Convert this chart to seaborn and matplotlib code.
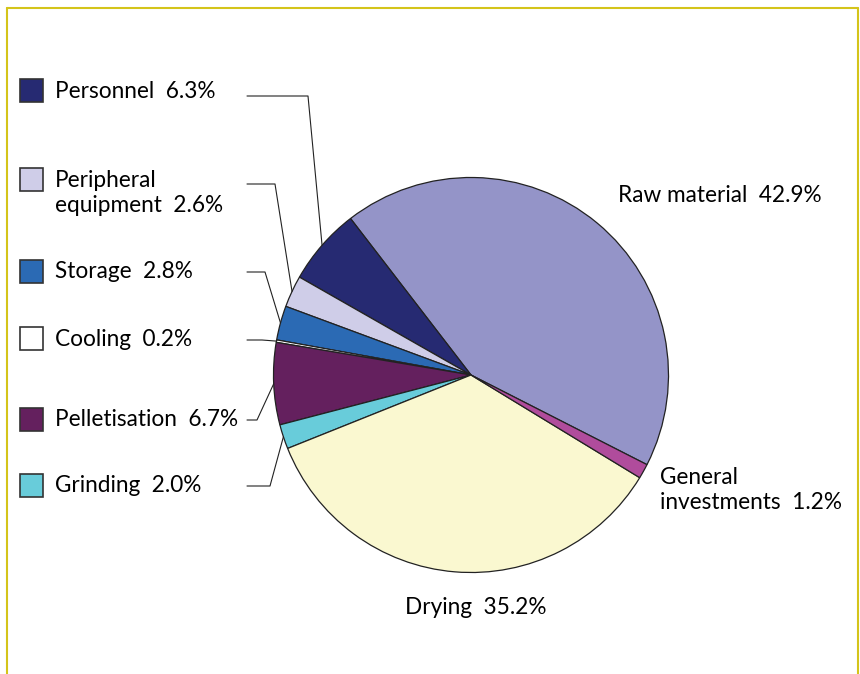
import numpy as np
import matplotlib.pyplot as plt
import seaborn as sns
from matplotlib.patches import Rectangle

# Data, counter-clockwise from the raw material wedge
categorias = ["Raw material", "Personnel", "Peripheral equipment", "Storage", "Cooling",
              "Pelletisation", "Grinding", "Drying", "General investments"]
valores = [42.9, 6.3, 2.6, 2.8, 0.2, 6.7, 2.0, 35.2, 1.2]
colores = ["#9494c8", "#262a72", "#cfcde8", "#2b6ab4", "#ffffff",
           "#64205e", "#68ccda", "#faf8d0", "#b04c9c"]

sns.set_style("white")
plt.rcParams['font.family'] = ['Lato', 'DejaVu Sans']
plt.rcParams['text.color'] = 'black'

fig = plt.figure(figsize=(8.6, 6.74), dpi=100)
ax = fig.add_axes([0, 0, 1, 1])

cx, cy, r = 471, 299, 197.5
wedges, _ = ax.pie(valores, colors=colores, startangle=-27, counterclock=True,
                   center=(cx, cy), radius=r, frame=True,
                   wedgeprops=dict(edgecolor='#222222', linewidth=0.9))
ax.set_xlim(0, 860)
ax.set_ylim(0, 674)
ax.set_aspect('equal')
ax.axis('off')

fs = 16.3
# right side labels
ax.text(618, 674 - 195, "Raw material  42.9%", fontsize=fs, va='center', ha='left')
ax.text(660, 674 - 490, "General\ninvestments  1.2%", fontsize=fs, va='center',
        ha='left', linespacing=1.2)
ax.text(405, 674 - 608, "Drying  35.2%", fontsize=fs, va='center', ha='left')

# left legend with leader lines: (name, text, text y, line y, line bend x)
legend_items = [("Personnel", "Personnel  6.3%", 91, 96, 308),
                ("Peripheral equipment", "Peripheral\nequipment  2.6%", 193, 184, 275),
                ("Storage", "Storage  2.8%", 272, 272, 265),
                ("Cooling", "Cooling  0.2%", 339, 340, 262),
                ("Pelletisation", "Pelletisation  6.7%", 420, 420, 257),
                ("Grinding", "Grinding  2.0%", 486, 486, 270)]
for nombre, texto, ty, ly, lx in legend_items:
    i = categorias.index(nombre)
    w = wedges[i]
    ang = np.deg2rad((w.theta1 + w.theta2) / 2)
    ex = cx + r * np.cos(ang)
    ey = cy + r * np.sin(ang)
    sq_y = ty if "\n" not in texto else ty - 13
    ax.add_patch(Rectangle((20, 674 - sq_y - 11), 23, 23, facecolor=colores[i],
                           edgecolor='#333333', linewidth=1.2))
    ax.text(55, 674 - ty, texto, fontsize=fs, va='center', ha='left',
            linespacing=1.2)
    ax.plot([247, lx, ex], [674 - ly, 674 - ly, ey], color='#222222', lw=0.8)

# frame
frame_col = '#d4c41a'
ax.plot([7, 7], [0, 666], color=frame_col, lw=1.5)
ax.plot([7, 858], [666, 666], color=frame_col, lw=1.5)
ax.plot([858, 858], [0, 666], color=frame_col, lw=1.5)

fig.savefig("out.png", dpi=100)
